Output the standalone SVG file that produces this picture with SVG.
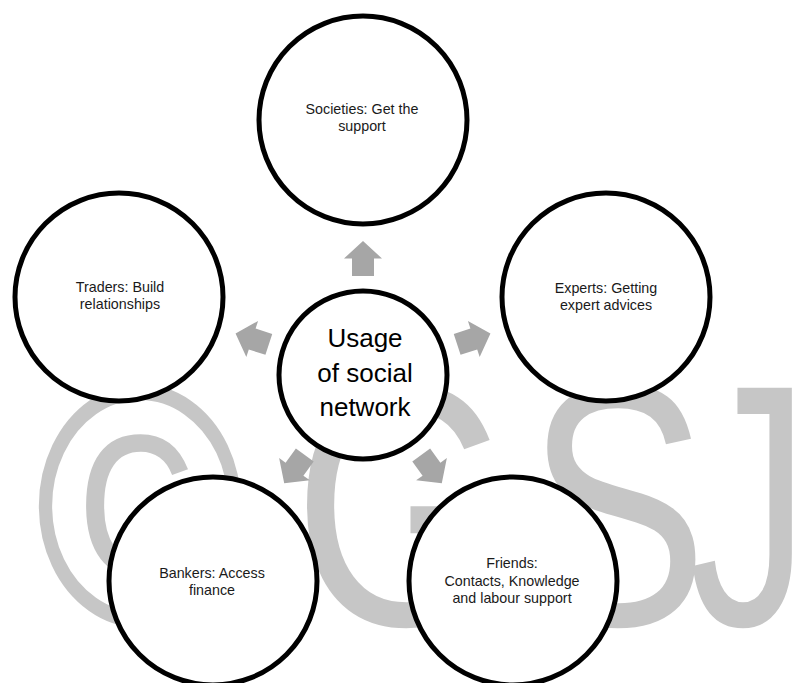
<svg xmlns="http://www.w3.org/2000/svg" width="805" height="683" viewBox="0 0 805 683">
  <style>
    .wm { font-family: "Liberation Sans", Arial, sans-serif; font-size: 345px; fill: #c6c6c6; }
    .node circle { fill: #ffffff; stroke: #000000; stroke-width: 5; }
    .lbl { font-family: "Liberation Sans", Arial, sans-serif; font-size: 14.3px; fill: #1a1a1a; text-anchor: middle; }
    .big { font-family: "Liberation Sans", Arial, sans-serif; font-size: 26px; fill: #000000; text-anchor: middle; }
    .arrow { fill: #a6a6a6; }
  </style>
  <defs>
    <path id="blockArrow" d="M0,-17.5 L19,0 L11,0 L11,17.5 L-11,17.5 L-11,0 L-19,0 Z"/>
  </defs>
  <rect x="0" y="0" width="805" height="683" fill="#ffffff"/>

  <g id="watermark">
    <text class="wm" text-anchor="middle" transform="translate(140,625) scale(0.83,1)">©</text>
    <text class="wm" text-anchor="middle" transform="translate(404,625) scale(0.83,1)">G</text>
    <text class="wm" text-anchor="middle" transform="translate(617,625) scale(0.79,1)">S</text>
    <text class="wm" transform="translate(689,625) scale(0.7,1)">J</text>
  </g>

  <g id="node-center" class="node">
    <circle cx="363" cy="375" r="84"/>
    <text class="big" x="365" y="347">Usage</text>
    <text class="big" x="365" y="382">of social</text>
    <text class="big" x="365" y="416">network</text>
  </g>

  <g id="node-societies" class="node">
    <circle cx="363" cy="120" r="104"/>
    <text class="lbl" x="362" y="114">Societies: Get the</text>
    <text class="lbl" x="362" y="131">support</text>
  </g>

  <g id="node-experts" class="node">
    <circle cx="606" cy="297" r="104"/>
    <text class="lbl" x="606" y="293">Experts: Getting</text>
    <text class="lbl" x="606" y="310">expert advices</text>
  </g>

  <g id="node-traders" class="node">
    <circle cx="119" cy="297" r="104"/>
    <text class="lbl" x="120" y="292">Traders: Build</text>
    <text class="lbl" x="120" y="309">relationships</text>
  </g>

  <g id="node-friends" class="node">
    <circle cx="513" cy="581" r="104"/>
    <text class="lbl" x="512" y="568">Friends:</text>
    <text class="lbl" x="512" y="586">Contacts, Knowledge</text>
    <text class="lbl" x="512" y="603">and labour support</text>
  </g>

  <g id="node-bankers" class="node">
    <circle cx="213" cy="581" r="104"/>
    <text class="lbl" x="212" y="578">Bankers: Access</text>
    <text class="lbl" x="212" y="595">finance</text>
  </g>

  <g id="connectors">
    <use href="#blockArrow" class="arrow" transform="translate(363,258.5)"/>
    <use href="#blockArrow" class="arrow" transform="translate(473.8,339) rotate(72)"/>
    <use href="#blockArrow" class="arrow" transform="translate(431.5,469.2) rotate(144)"/>
    <use href="#blockArrow" class="arrow" transform="translate(294.5,469.2) rotate(-144)"/>
    <use href="#blockArrow" class="arrow" transform="translate(252.2,339) rotate(-72)"/>
  </g>
</svg>
